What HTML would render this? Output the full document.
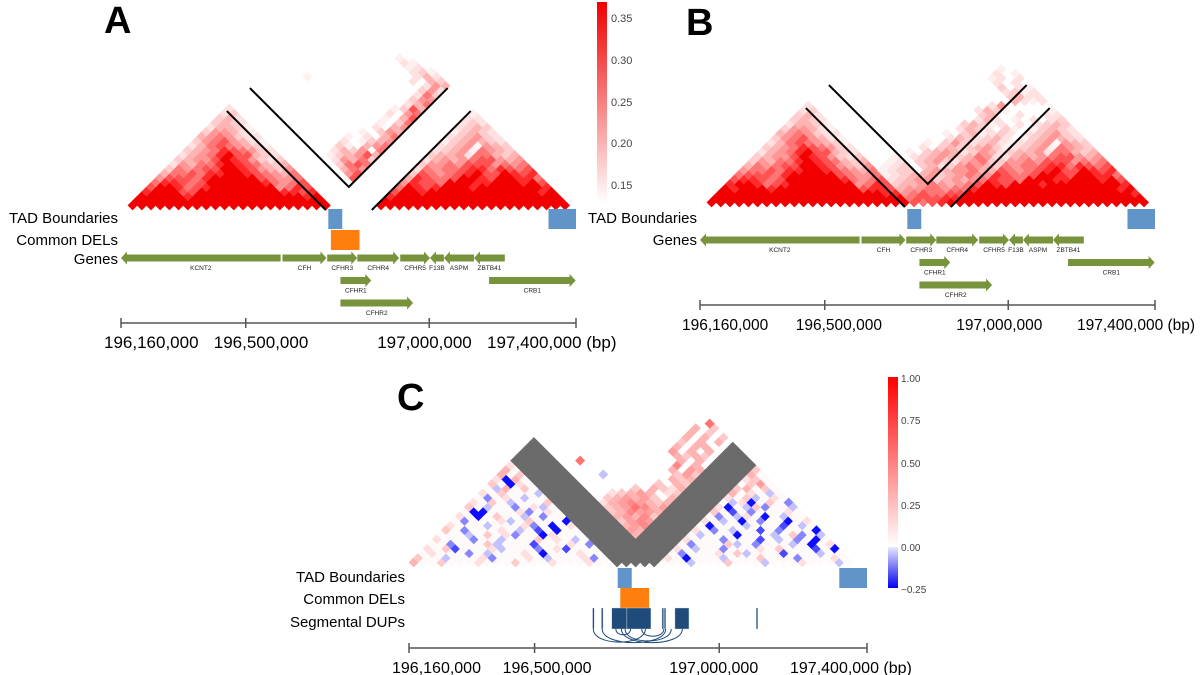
<!DOCTYPE html>
<html><head><meta charset="utf-8"><style>
html,body{margin:0;padding:0;background:#fff;}
svg{display:block;font-family:"Liberation Sans",sans-serif;}
</style></head><body>
<svg id="fig" width="1200" height="675" viewBox="0 0 1200 675" xmlns="http://www.w3.org/2000/svg">
<defs>
<linearGradient id="gA" x1="0" y1="1" x2="0" y2="0"><stop offset="0" stop-color="#ffffff"/><stop offset="1" stop-color="#f00000"/></linearGradient>
<linearGradient id="gC" x1="0" y1="1" x2="0" y2="0"><stop offset="0" stop-color="#ffffff"/><stop offset="1" stop-color="#ff0000"/></linearGradient>
<linearGradient id="gCb" x1="0" y1="0" x2="0" y2="1"><stop offset="0" stop-color="#e8e8ff"/><stop offset="1" stop-color="#0000ee"/></linearGradient>
</defs>
<g id="layer"></g>
<text x="104" y="33" font-size="38" font-weight="bold">A</text>
<text x="686" y="35" font-size="38" font-weight="bold">B</text>
<text x="397" y="410" font-size="38" font-weight="bold">C</text>
<g>
<rect x="597" y="2" width="10" height="201" fill="url(#gA)"/>
<g font-size="11" fill="#444">
<text x="611" y="22">0.35</text><text x="611" y="64">0.30</text><text x="611" y="106">0.25</text><text x="611" y="147">0.20</text><text x="611" y="189">0.15</text>
</g></g>
<g>
<rect x="888" y="377" width="10" height="170" fill="url(#gC)"/>
<rect x="888" y="547" width="10" height="41" fill="url(#gCb)"/>
<g font-size="10" fill="#444">
<text x="901" y="382">1.00</text><text x="901" y="424">0.75</text><text x="901" y="467">0.50</text><text x="901" y="509">0.25</text><text x="901" y="551">0.00</text><text x="901" y="593">−0.25</text>
</g></g>
<g font-size="15" text-anchor="end" fill="#000">
<text x="118" y="223">TAD Boundaries</text>
<text x="118" y="245">Common DELs</text>
<text x="118" y="264">Genes</text>
<text x="697" y="223">TAD Boundaries</text>
<text x="697" y="245">Genes</text>
<text x="405" y="582">TAD Boundaries</text>
<text x="405" y="604">Common DELs</text>
<text x="405" y="627">Segmental DUPs</text>
</g>
</svg>
<script>
// ---------------- data ----------------
const nBins = 48;
const lineBounds = [21.5, 26.5];
const gapBins = [22, 26];
// Panel A: left TAD (diag strings), inter-TAD region, right TAD
const aLeft = ["9999999999999999999999","999999999999999999999","99999899999999999989","8999779999999998878","799867899999995687","68876799999986567","5777689999976556","466768899876546","36567799875435","2546689876434","345579875323","24568977432","3456876532","246765431","35675421","4565322","355421","24431","3432","342","23","2"];
const aRight = ["999999999999999999999","99999999999999999999","8999999999999999999","799899999999999989","69878999899999998","5877699988999897","487667998799886","37656789779878","2656678868767","355657775656","24545677545","3445266434","234516543","23450543","1345432","234532","13432","2343","232","22","1"];
const aMid = {6:"7",7:"57",8:"465",9:"3676",10:"25463",11:"134574",12:".2435.6",13:"..31.456",14:"...2.1345",15:"....1.2.46",16:"......1.354",17:"........2.45",18:".........1.36",19:"..........1.47",20:"...........2.56",21:"............1374",22:"..............246",23:"...............355",24:"................263",25:".................352",26:"..................254",27:".................2.43",28:".....1...........242",29:"................231",30:"...............12.",31:"..............21",32:".............1"};
// Panel B: full diagonals
const bDiag = [
"9999999999999999999999"+"76789"+"999999999999999999999",
"999999999999999999999"+"677788"+"99999999999999999999",
"99999999999999999988"+"5676677"+"9999999999999999998",
"9899989999999997887"+"45566566"+"899999999999999989",
"899867899999995687"+"344565456"+"79879998999999998",
"78876799999986567"+"2345534545"+"6877699988999897",
"6777689999976556"+"12344"+"5"+"34565"+"587667998799886",
"566768899876546"+"1233."+"45"+"45564"+"47656789779878",
"46567799875435"+".123."+"342"+"35654"+"3656678868767",
"3546689876434"+"..12."+"3453"+"24563"+"355657775656",
"345579875323"+"...1."+"23454"+"34652"+"24545677545",
"24568977432"+"....."+"1.3454"+"23542"+"3445266434",
"3456876532"+"....."+"..2.343"+"34531"+"234516543",
"246765431"+"....."+"...1.353"+"23421"+"23450543",
"35675421"+"....."+"......243"+"2342."+"1345432",
"4565322"+"....."+"......1.34"+"1232."+"234532",
"355421"+"....."+"........243"+"2.31."+"13432",
"24431"+"....."+".........343"+"12.2."+"2343",
"3432"+"....."+"...........242"+".1.2."+"232",
"342"+"....."+"............34"+"..2.."+"22",
"23"+"....."+"............243"+"1...."+"1",
"2"+"....."+"..............25"+".....",
".".repeat(22)+"4212",
".".repeat(21)+"3422",
".".repeat(20)+"2312",
".".repeat(19)+"3.21",
".".repeat(18)+"2.2.",
".".repeat(17)+"12.2",
".".repeat(17)+"2.1",
".".repeat(17)+"1."
];
// Panel C: correlation (digits = positive, A-D = negative)
const cLeft = ["3002000100020001000100","200A0001B00010A0001B0","01000B0A00010D000100","102C0001A000B01C000","00B0002A000C00010B","1000B00A0002010A0","000A0201B00D1000","20B00010A0C0D00","1000A0001B0D01","0B0001A02000D","10D0200A0B00","0DD0001B010","20A00B01A0","1020A0002","0B010A00","102000A","0A3020","20D10","1D30","302","30","1"];
const cRight = ["000A0002000A0001000A0","10D000A0002000B00010","0B000102A000C000A00","10A00B000102000C0D","0B0002A0B000A0D01","1000B000C0A0B0D0","0A000D000A02B0A","10B0A00C0B000D","0D000A000C0A0","10A0D0B00D01","0B0A10D0A00","20C0B00010","1D0A2B00A","0A1D020B","102A010","3010A0","23020","0240","120","30","2"];
const cMid = {6:"3",7:"43",8:"345",9:"2454",10:"34352",11:"235443",12:"2346534",13:"13454323",14:"0234342.3",15:"..12343.12",16:".....2.3213",17:"........2.32",18:"..........323",19:"...A.......242",20:"...........3.43",21:"............5.3.",22:"..6"+".".repeat(10)+"3.3.",23:".".repeat(13)+"3232.",24:".".repeat(13)+"4.3.3.",25:".".repeat(14)+"3.33..",26:".".repeat(15)+"2.3.3.",27:".".repeat(16)+"3.3.2",28:".".repeat(16)+"3.2.",29:".".repeat(16)+"3.2",30:".".repeat(17)+"6"};
// genes (kb)
const geneNames = ["KCNT2","CFH","CFHR3","CFHR4","CFHR5","F13B","ASPM","ZBTB41","CFHR1","CRB1","CFHR2"];
const geneStart = [196160,196600,196722,196804,196921,197002,197040,197122,196758,197163,196758];
const geneEnd   = [196595,196720,196804,196918,197002,197040,197122,197206,196842,197399,196956];
const geneStrand = [-1,1,1,1,1,-1,-1,-1,1,1,1];
const geneRow = [0,0,0,0,0,0,0,0,1,1,2];
// boundaries & deletions (kb)
const tadStart = [196725, 197325];
const tadEnd = [196763, 197400];
const delStart = [196732];
const delEnd = [196810];
// segmental dups (kb)
const dupStart = [196657,196681,196709,196750,196845,196851,196880,197100];
const dupEnd   = [196661,196685,196750,196815,196849,196855,196918,197104];
const arcFrom = [196659,196683,196720,196735,196745,196790];
const arcTo   = [196800,196855,196760,196900,196870,196850];
const tickKb = [196160,196500,197000,197400];
const tickText = ["196,160,000","196,500,000","197,000,000","197,400,000 (bp)"];

// ---------------- drawing ----------------
const NS="http://www.w3.org/2000/svg";
const layer=document.getElementById('layer');
function mk(tag,attrs,parent){const e=document.createElementNS(NS,tag);for(const k in attrs)e.setAttribute(k,attrs[k]);(parent||layer).appendChild(e);return e;}
function grp(name){const g=mk('g',{});return g;}
function redCol(ch){const v=+ch;const t=Math.min(1,0.03+Math.pow(v/9,1.6)*0.97);const c=Math.round(255*(1-t));return `rgb(${v>=9?242:255},${c},${c})`;}
function corrCol(ch){if(ch>='A'&&ch<='D'){const t=(ch.charCodeAt(0)-64)/4;const c=Math.round(255*(1-t*0.95));return `rgb(${c},${c},255)`;}const v=+ch;const t=v===0?0.02:0.04+v*0.085;const c=Math.round(255*(1-t));return `rgb(255,${c},${c})`;}
function cell(g,P,i,d,fill){const hw=P.w/2;const cx=P.x0+(2*i+d+1)*hw, cy=P.base-(d+1)*hw;
 const p=mk('polygon',{points:`${cx},${cy-hw} ${cx+hw},${cy} ${cx},${cy+hw} ${cx-hw},${cy}`,fill:fill,stroke:fill,'stroke-width':0.6},g);
 
 }
function drawBlocks(g,P,L,M,R,col){
 L.forEach((s,d)=>{for(let k=0;k<s.length;k++)if(s[k]!=='.')cell(g,P,k,d,col(s[k]));});
 R.forEach((s,d)=>{const i0=gapBins[1]+1;for(let k=0;k<s.length;k++)if(s[k]!=='.')cell(g,P,i0+k,d,col(s[k]));});
 for(const key in M){const d=+key,s=M[key];const i0=Math.max(0,gapBins[1]+1-d);for(let k=0;k<s.length;k++){const i=i0+k,j=i+d;if(s[k]!=='.'&&i<gapBins[0]&&j<nBins)cell(g,P,i,d,col(s[k]));}}}
function drawDiag(g,P,D,col){D.forEach((s,d)=>{for(let k=0;k<s.length&&k+d<nBins;k++)if(s[k]!=='.')cell(g,P,k,d,col(s[k]));});}
function drawLines(g,P){const hw=P.w/2,a=lineBounds[0],b=lineBounds[1];
 const pt=(i,j)=>[P.x0+(i+j)*hw,P.base-(j-i)*hw];
 const segs=[[pt(0,a),pt(a,a)],[pt(0,b),pt(a,b),pt(a,nBins)],[pt(b,b),pt(b,nBins)]];
 segs.forEach(s=>{const l=mk('polyline',{points:s.map(p=>p.join(',')).join(' '),fill:'none',stroke:'#000','stroke-width':2},g);
 
 });}
function axis(P){return kb=>P.ax0+(kb-tickKb[0])*(P.ax1-P.ax0)/(tickKb[3]-tickKb[0]);}
function drawAxis(g,P,offs,fs){const X=axis(P);
 mk('line',{x1:X(tickKb[0]),x2:X(tickKb[3]),y1:P.ay,y2:P.ay,stroke:'#555','stroke-width':1.5},g);
 tickKb.forEach((t,k)=>{mk('line',{x1:X(t),x2:X(t),y1:P.ay-5,y2:P.ay+5,stroke:'#555','stroke-width':1.5},g);
 const tx=mk('text',{x:X(t)+offs[k],y:P.ay+25,'font-size':fs,'text-anchor':'start'},g);tx.textContent=tickText[k];
 
 });}
function box(g,x1,x2,y,h,fill,name){const r=mk('rect',{x:x1,y:y,width:x2-x1,height:h,fill:fill},g);
 
 }
function drawGenes(g,P,y0){const X=axis(P);
 geneNames.forEach((n,k)=>{const a=X(geneStart[k]),b=X(geneEnd[k]),y=y0+geneRow[k]*22.5;const hl=6,bh=3.5,hh=6.5;let pts;
 if(geneStrand[k]>0)pts=[[a,y-bh],[b-hl,y-bh],[b-hl,y-hh],[b,y],[b-hl,y+hh],[b-hl,y+bh],[a,y+bh]];
 else pts=[[b,y-bh],[a+hl,y-bh],[a+hl,y-hh],[a,y],[a+hl,y+hh],[a+hl,y+bh],[b,y+bh]];
 const p=mk('polygon',{points:pts.map(q=>q.join(',')).join(' '),fill:'#77933c'},g);
 
 
 const t=mk('text',{x:(a+b)/2,y:y+12,'font-size':6.5,'text-anchor':'middle',fill:'#222'},g);t.textContent=n;
 
 });}

// Panel A
const PA={x0:128,base:210,w:9.2,ax0:121,ax1:576,ay:323};
const gA=grp('panel-a-heatmap');
drawBlocks(gA,PA,aLeft,aMid,aRight,redCol);
drawLines(grp('panel-a-boundary-lines'),PA);
const gAt=grp('panel-a-tracks');
{const X=axis(PA);tadStart.forEach((s,k)=>box(gAt,X(s),X(tadEnd[k]),209,20,'#6195c9','tad-boundary-box'));
 delStart.forEach((s,k)=>box(gAt,X(s),X(delEnd[k]),230,20,'#ff7f0e','common-del-box'));}
drawGenes(grp('panel-a-genes'),PA,258);
drawAxis(grp('panel-a-x-axis'),PA,[-17,-32,-52,-89],17);

// Panel B
const PB={x0:707,base:207,w:9.2,ax0:700,ax1:1155,ay:305};
drawDiag(grp('panel-b-heatmap'),PB,bDiag,redCol);
drawLines(grp('panel-b-boundary-lines'),PB);
const gBt=grp('panel-b-tracks');
{const X=axis(PB);tadStart.forEach((s,k)=>box(gBt,X(s),X(tadEnd[k]),209,20,'#6195c9','tad-boundary-box'));}
drawGenes(grp('panel-b-genes'),PB,240);
drawAxis(grp('panel-b-x-axis'),PB,[-18,-29,-52,-78],15.5);

// Panel C
const PC={x0:409,base:567,w:9.25,ax0:409,ax1:867,ay:648};
const gC=grp('panel-c-heatmap');
drawBlocks(gC,PC,cLeft,cMid,cRight,corrCol);
for(let d=0;d<nBins;d++)for(let i=0;i+d<nBins;i++){const j=i+d;const inG=x=>x>=gapBins[0]&&x<=gapBins[1];if(inG(i)||inG(j))cell(gC,PC,i,d,'#6b6b6b');}
const gCt=grp('panel-c-tracks');
{const X=axis(PC);tadStart.forEach((s,k)=>box(gCt,X(s),X(tadEnd[k]),568,20,'#6195c9','tad-boundary-box'));
 delStart.forEach((s,k)=>box(gCt,X(s),X(delEnd[k]),588,20,'#ff7f0e','common-del-box'));
 dupStart.forEach((s,k)=>{const r=mk('rect',{x:X(s),y:608,width:Math.max(1.6,X(dupEnd[k])-X(s)),height:21,fill:'#1f4b7a',stroke:'#cfdbe8','stroke-width':0.4},gCt);
 
 });
 arcFrom.forEach((s,k)=>{const a=X(s),b=X(arcTo[k]);const depth=Math.min(14,(b-a)*0.2+3);
 const p=mk('path',{d:`M${a},629 C${a},${629+depth*1.3} ${b},${629+depth*1.3} ${b},629`,fill:'none',stroke:'#1f4b7a','stroke-width':1},gCt);
 
 });}
drawAxis(grp('panel-c-x-axis'),PC,[-17,-32,-50,-77],16);
</script>
</body></html>
